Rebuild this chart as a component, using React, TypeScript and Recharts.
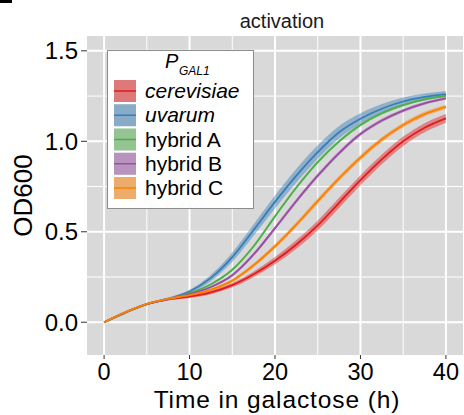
import React from 'react';
import { ComposedChart, Area, Line, XAxis, YAxis, CartesianGrid, Legend } from 'recharts';

const FONT = '"Liberation Sans", Arial, Helvetica, sans-serif';

// hours in galactose
const TIME = [0, 2.5, 5, 7.5, 10, 12.5, 15, 17.5, 20, 22.5, 25, 27.5, 30, 32.5, 35, 37.5, 40];

// mean OD600 per strain
const CEREVISIAE = [0, 0.055, 0.1, 0.127, 0.142, 0.165, 0.205, 0.265, 0.34, 0.43, 0.535, 0.66, 0.785, 0.9, 1.0, 1.075, 1.127];
const UVARUM = [0, 0.055, 0.1, 0.13, 0.17, 0.245, 0.36, 0.51, 0.665, 0.81, 0.94, 1.05, 1.125, 1.18, 1.22, 1.245, 1.261];
const HYBRID_A = [0, 0.052, 0.1, 0.128, 0.16, 0.21, 0.29, 0.42, 0.585, 0.745, 0.885, 1.0, 1.09, 1.155, 1.2, 1.232, 1.252];
const HYBRID_B = [0, 0.055, 0.1, 0.128, 0.155, 0.195, 0.26, 0.375, 0.52, 0.67, 0.81, 0.935, 1.04, 1.115, 1.17, 1.21, 1.237];
const HYBRID_C = [0, 0.056, 0.102, 0.13, 0.15, 0.18, 0.23, 0.315, 0.42, 0.54, 0.67, 0.795, 0.91, 1.01, 1.09, 1.15, 1.19];

// ribbon half-widths
const CEREVISIAE_SD = [0, 0.003, 0.005, 0.006, 0.008, 0.01, 0.012, 0.016, 0.02, 0.024, 0.027, 0.028, 0.028, 0.027, 0.026, 0.025, 0.024];
const UVARUM_SD = [0, 0.003, 0.005, 0.007, 0.01, 0.018, 0.026, 0.032, 0.036, 0.038, 0.038, 0.034, 0.03, 0.026, 0.022, 0.019, 0.017];
const HYBRID_A_SD = [0, 0.002, 0.003, 0.004, 0.005, 0.006, 0.007, 0.008, 0.009, 0.009, 0.009, 0.009, 0.008, 0.008, 0.007, 0.007, 0.006];
const HYBRID_B_SD = [0, 0.002, 0.003, 0.004, 0.005, 0.006, 0.008, 0.01, 0.011, 0.012, 0.012, 0.012, 0.011, 0.01, 0.009, 0.008, 0.008];
const HYBRID_C_SD = [0, 0.002, 0.003, 0.004, 0.005, 0.007, 0.009, 0.011, 0.013, 0.014, 0.015, 0.015, 0.015, 0.014, 0.013, 0.013, 0.012];

const X_TICKS = [0, 10, 20, 30, 40];
const X_MINOR = [5, 15, 25, 35];
const Y_TICKS = [0, 0.5, 1.0, 1.5];
const Y_MINOR = [0.25, 0.75, 1.25];

const SERIES = [
  { key: 'cer', name: 'cerevisiae', italic: true, color: '#E41A1C', mean: CEREVISIAE, sd: CEREVISIAE_SD },
  { key: 'uva', name: 'uvarum', italic: true, color: '#377EB8', mean: UVARUM, sd: UVARUM_SD },
  { key: 'hA', name: 'hybrid A', italic: false, color: '#4DAF4A', mean: HYBRID_A, sd: HYBRID_A_SD },
  { key: 'hB', name: 'hybrid B', italic: false, color: '#984EA3', mean: HYBRID_B, sd: HYBRID_B_SD },
  { key: 'hC', name: 'hybrid C', italic: false, color: '#FF7F00', mean: HYBRID_C, sd: HYBRID_C_SD },
];

const rows = TIME.map((t, i) => {
  const row: Record<string, any> = { t };
  SERIES.forEach((s) => {
    row[s.key] = s.mean[i];
    row[s.key + 'Band'] = [s.mean[i] - s.sd[i], s.mean[i] + s.sd[i]];
  });
  return row;
});

const PANEL_BG = '#D9D9D9';

const renderLegend = () => (
  <svg width={147} height={159} style={{ display: 'block', fontFamily: FONT }}>
    <rect x={0.5} y={0.5} width={146} height={158} fill="#fff" stroke="#8C8C8C" />
    <text x={58} y={18} fontSize={20} fontStyle="italic" fill="#000">P</text>
    <text x={72} y={25} fontSize={12} fontStyle="italic" fill="#000">GAL1</text>
    {SERIES.map((s, i) => {
      const cy = 41 + i * 24.25;
      return (
        <g key={s.key}>
          <rect x={7} y={cy - 11} width={22} height={22} fill={PANEL_BG} />
          <rect x={7} y={cy - 11} width={22} height={22} fill={s.color} fillOpacity={0.5} />
          <line x1={7} x2={29} y1={cy} y2={cy} stroke={s.color} strokeWidth={1.5} />
          <text x={38} y={cy + 7} fontSize={21} fontStyle={s.italic ? 'italic' : 'normal'} fill="#000">
            {s.name}
          </text>
        </g>
      );
    })}
  </svg>
);

export default function App() {
  return (
    <div style={{ position: 'absolute', left: 0, top: 0, width: 464, height: 415, background: '#fff', fontFamily: FONT }}>
      <svg width={464} height={36} style={{ position: 'absolute', left: 0, top: 0 }}>
        <rect x={0} y={0} width={12} height={3} fill="#000" />
        <text x={282} y={28} textAnchor="middle" fontSize={20} fill="#1A1A1A" fontFamily={FONT}>
          activation
        </text>
      </svg>
      <ComposedChart
        width={464}
        height={415}
        data={rows}
        margin={{ top: 36, right: 1, bottom: 0, left: 0 }}
        style={{ fontFamily: FONT }}
      >
        <CartesianGrid
          fill={PANEL_BG}
          fillOpacity={1}
          stroke="#fff"
          strokeWidth={1}
          horizontalValues={Y_MINOR}
          verticalValues={X_MINOR}
        />
        <CartesianGrid
          stroke="#fff"
          strokeWidth={2}
          horizontalValues={Y_TICKS}
          verticalValues={X_TICKS}
        />
        <XAxis
          dataKey="t"
          type="number"
          domain={[-2, 42]}
          ticks={X_TICKS}
          allowDataOverflow
          height={60}
          axisLine={false}
          tickLine={{ stroke: '#333' }}
          tickSize={4}
          tickMargin={4}
          tick={{ fontSize: 23.5, fill: '#000' }}
          label={{
            content: (p: any) => (
              <text
                x={p.viewBox.x + p.viewBox.width / 2 + 2}
                y={p.viewBox.y + 53}
                textAnchor="middle"
                fontSize={24.5}
                letterSpacing={0.9}
                fill="#000"
              >
                Time in galactose (h)
              </text>
            ),
          }}
        />
        <YAxis
          type="number"
          domain={[-0.181, 1.582]}
          ticks={Y_TICKS}
          allowDataOverflow
          width={87}
          axisLine={false}
          tickLine={{ stroke: '#333' }}
          tickSize={6}
          tickMargin={3}
          tick={{ fontSize: 24, fill: '#000' }}
          tickFormatter={(v: number) => v.toFixed(1)}
          label={{
            content: (p: any) => {
              const cx = 23;
              const cy = p.viewBox.y + p.viewBox.height / 2;
              return (
                <text
                  x={cx}
                  y={cy}
                  transform={`rotate(-90 ${cx} ${cy})`}
                  textAnchor="middle"
                  dominantBaseline="central"
                  fontSize={26}
                  fill="#000"
                >
                  OD600
                </text>
              );
            },
          }}
        />
        {SERIES.map((s) => (
          <Area
            key={s.key + 'Band'}
            dataKey={s.key + 'Band'}
            type="monotone"
            stroke="none"
            fill={s.color}
            fillOpacity={0.45}
            isAnimationActive={false}
            legendType="none"
          />
        ))}
        {SERIES.map((s) => (
          <Line
            key={s.key}
            dataKey={s.key}
            name={s.name}
            type="monotone"
            stroke={s.color}
            strokeWidth={1.8}
            dot={false}
            activeDot={false}
            isAnimationActive={false}
          />
        ))}
        <Legend
          layout="vertical"
          align="center"
          verticalAlign="middle"
          content={renderLegend}
          wrapperStyle={{ position: 'absolute', left: 107, top: 50, width: 147, height: 159 }}
        />
      </ComposedChart>
    </div>
  );
}
